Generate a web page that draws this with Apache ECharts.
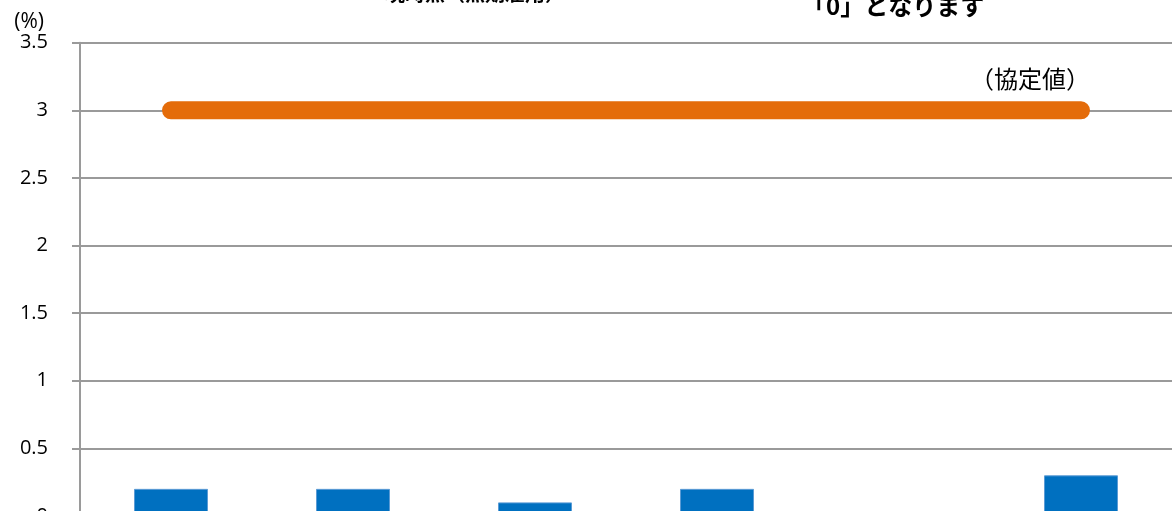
<!DOCTYPE html>
<html>
<head>
<meta charset="utf-8">
<script src="https://cdn.jsdelivr.net/npm/echarts@6/dist/echarts.min.js"></script>
<style>
html,body{margin:0;padding:0;background:#fff;}
#c{width:1172px;height:511px;}
</style>
</head>
<body>
<div id="c"></div>
<script>
var categories = ['1', '2', '3', '4', '5', '6'];
var actualValues = [0.2, 0.2, 0.1, 0.2, 0, 0.3];
var agreedValues = [3, 3, 3, 3, 3, 3];
var agreedLabel = '（協定値）';
var topNoteLeft = '現時点（無期雇用）';
var topNoteRight = '「0」となります';

var chart = echarts.init(document.getElementById('c'));
var lastIdx = agreedValues.length - 1;
chart.setOption({
  animation: false,
  grid: { left: 80, top: 42.7, right: 0, height: 473.2, containLabel: false, outerBoundsMode: 'none' },
  xAxis: {
    type: 'category', data: categories,
    axisLine: { show: false }, axisTick: { show: false }, axisLabel: { show: false }
  },
  yAxis: {
    type: 'value', min: 0, max: 3.5, interval: 0.5,
    name: '(%)', nameLocation: 'end', nameGap: 10,
    nameTextStyle: { fontFamily: 'Open Sans', fontSize: 21, color: '#000', align: 'right', padding: [0, 36, 0, 0] },
    axisLine: { show: true, lineStyle: { color: '#9a9a9a', width: 2 } },
    axisTick: { show: true, length: 8, lineStyle: { color: '#9a9a9a', width: 2 } },
    axisLabel: { fontFamily: 'Open Sans', fontSize: 20, color: '#000', margin: 32 },
    splitLine: { show: true, lineStyle: { color: '#9a9a9a', width: 2 } }
  },
  series: [
    {
      type: 'bar', data: actualValues, barWidth: 74,
      itemStyle: { color: '#0070C0', borderColor: '#5b9bd5', borderWidth: 1 }
    },
    {
      type: 'line', data: agreedValues, symbol: 'circle', symbolSize: 2, showSymbol: true,
      itemStyle: { color: '#E46C0A' },
      lineStyle: { color: '#E46C0A', width: 18, cap: 'round' },
      label: {
        show: true, position: [-110, -42],
        formatter: function (p) { return p.dataIndex === lastIdx ? agreedLabel : ''; },
        fontFamily: 'Noto Sans CJK JP', fontSize: 24, color: '#000'
      },
      labelLayout: { hideOverlap: false }
    }
  ],
  graphic: [
    { type: 'text', left: 385, top: -17, style: { text: topNoteLeft, fontFamily: 'Noto Sans CJK JP', fontSize: 20, fontWeight: 'bold', fill: '#000' } },
    { type: 'text', left: 802, top: -6, style: { text: topNoteRight, fontFamily: 'Noto Sans CJK JP', fontSize: 24, fontWeight: 'bold', fill: '#000' } }
  ]
});
</script>
</body>
</html>
